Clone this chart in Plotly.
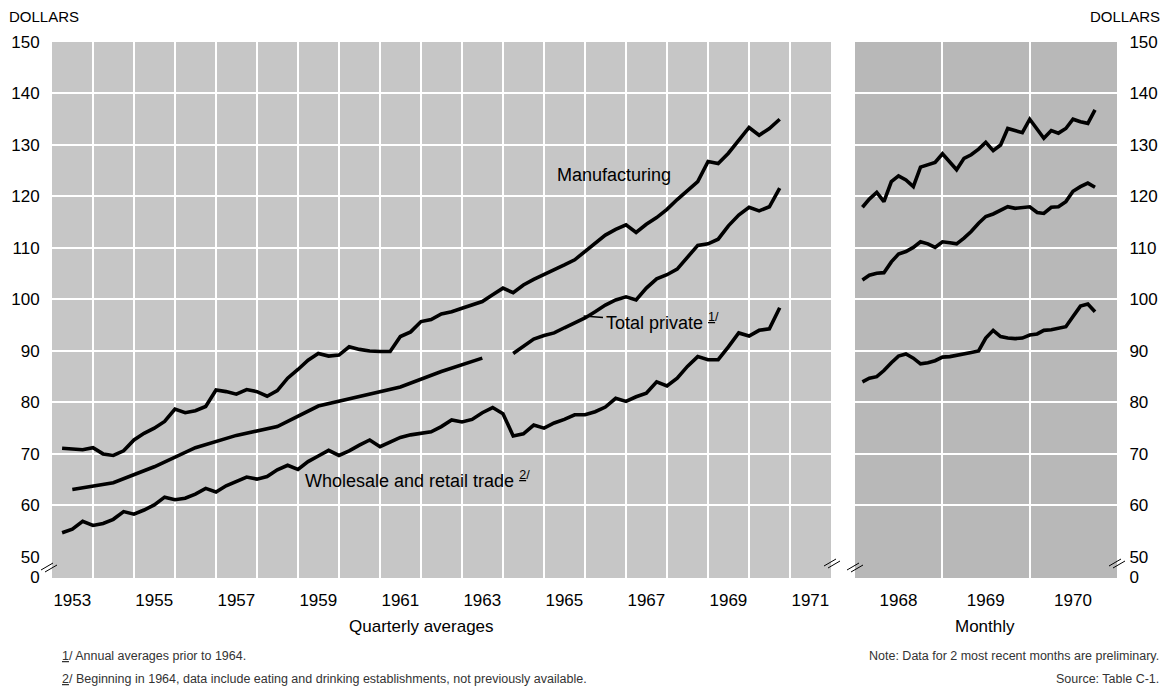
import pandas as pd
import plotly.graph_objects as go

# Periods
quarters = pd.period_range("1953Q1", "1970Q3", freq="Q").to_timestamp(how="end")
tp_years = list(range(1953, 1964))
tp_annual_dates = pd.to_datetime([f"{y}-07-01" for y in tp_years])
tp_quarters = pd.period_range("1964Q1", "1970Q3", freq="Q").to_timestamp(how="end")
months = pd.period_range("1968-01", "1970-09", freq="M").to_timestamp(how="end")

# Average weekly earnings, dollars
manufacturing_q = [
    71.1, 70.9, 70.8, 71.2, 70.0, 69.7, 70.6, 72.7, 74.0, 75.0, 76.3, 78.7,
    78.0, 78.4, 79.2, 82.4, 82.1, 81.6, 82.5, 82.1, 81.2, 82.3, 84.7, 86.4,
    88.2, 89.5, 89.0, 89.2, 90.8, 90.3, 90.0, 89.9, 89.9, 92.8, 93.7, 95.7,
    96.1, 97.2, 97.6, 98.3, 98.9, 99.6, 100.9, 102.2, 101.3, 102.8, 103.9, 104.8,
    105.7, 106.7, 107.7, 109.3, 111.0, 112.5, 113.6, 114.5, 113.0, 114.6, 115.9, 117.5,
    119.4, 121.1, 122.9, 126.8, 126.4, 128.4, 130.8, 133.4, 131.9, 133.2, 135.0,
]
total_private_annual = [63.1, 64.4, 67.5, 71.2, 73.6, 75.3, 79.3, 81.1, 83.0, 86.0, 88.6]
total_private_q = [
    89.5, 91.0, 92.3, 93.0, 93.5, 94.5, 95.5, 96.4, 97.6, 98.9, 99.9, 100.5,
    99.9, 102.2, 104.0, 104.8, 105.9, 108.2, 110.5, 110.8, 111.7, 114.3, 116.4, 117.9,
    117.2, 118.0, 121.6,
]
trade_q = [
    54.7, 55.4, 56.9, 56.1, 56.5, 57.3, 58.8, 58.3, 59.1, 60.1, 61.6, 61.1,
    61.4, 62.2, 63.3, 62.6, 63.8, 64.6, 65.5, 65.1, 65.6, 66.9, 67.8, 67.0,
    68.5, 69.6, 70.7, 69.7, 70.6, 71.7, 72.7, 71.4, 72.2, 73.2, 73.7, 74.0,
    74.3, 75.3, 76.6, 76.2, 76.7, 78.0, 79.0, 77.8, 73.5, 73.9, 75.6, 75.0,
    76.0, 76.7, 77.6, 77.6, 78.2, 79.1, 80.8, 80.2, 81.1, 81.8, 84.0, 83.2,
    84.7, 87.0, 88.9, 88.3, 88.3, 90.8, 93.5, 92.9, 94.0, 94.3, 98.4,
]
manufacturing_m = [
    117.9, 119.5, 120.8, 119.0, 122.9, 124.0, 123.2, 121.9, 125.7, 126.1, 126.6, 128.3,
    126.8, 125.2, 127.4, 128.1, 129.2, 130.5, 128.9, 130.0, 133.2, 132.8, 132.4, 135.0,
    132.9, 131.3, 132.8, 132.3, 133.2, 135.0, 134.5, 134.2, 136.8,
]
total_private_m = [
    103.8, 104.7, 105.1, 105.2, 107.3, 108.8, 109.3, 110.1, 111.2, 110.8, 110.1, 111.2,
    111.0, 110.8, 111.9, 113.2, 114.8, 116.1, 116.6, 117.3, 118.0, 117.7, 117.9, 118.0,
    116.9, 116.7, 117.9, 118.0, 119.0, 121.0, 121.9, 122.6, 121.8,
]
trade_m = [
    84.0, 84.7, 85.0, 86.2, 87.7, 89.0, 89.4, 88.6, 87.5, 87.7, 88.1, 88.8,
    88.9, 89.2, 89.4, 89.7, 90.0, 92.5, 94.0, 92.8, 92.5, 92.4, 92.5, 93.1,
    93.3, 94.0, 94.1, 94.4, 94.7, 96.7, 98.7, 99.1, 97.6,
]

left_years = list(range(1953, 1972, 2))
right_years = [1968, 1969, 1970]
y_ticks = [50, 60, 70, 80, 90, 100, 110, 120, 130, 140, 150]

W, H = 1167, 690
FONT = "Liberation Sans, Arial, sans-serif"
line = dict(color="black", width=3.6)

fig = go.Figure()
fig.add_trace(go.Scatter(x=quarters, y=manufacturing_q, mode="lines", line=line))
fig.add_trace(go.Scatter(x=tp_annual_dates, y=total_private_annual, mode="lines", line=line))
fig.add_trace(go.Scatter(x=tp_quarters, y=total_private_q, mode="lines", line=line))
fig.add_trace(go.Scatter(x=quarters, y=trade_q, mode="lines", line=line))
for vals in (manufacturing_m, total_private_m, trade_m):
    fig.add_trace(go.Scatter(x=months, y=vals, mode="lines", line=line, xaxis="x2", yaxis="y2"))


def px(x, y):
    return x / W, 1 - y / H


yaxis_common = dict(
    range=[45.9, 150],
    automargin=False,
    tickmode="array",
    tickvals=[46] + y_ticks,
    ticktext=["0"] + [str(v) for v in y_ticks],
    showgrid=False,
    zeroline=False,
    showline=False,
    ticks="outside",
    ticklen=8,
    tickcolor="rgba(0,0,0,0)",
    tickfont=dict(family=FONT, size=17, color="black"),
    minor=dict(tickmode="array", tickvals=y_ticks[1:-1], showgrid=True,
               gridcolor="white", gridwidth=2, ticks=""),
)
xaxis_common = dict(
    type="date",
    automargin=False,
    showgrid=False,
    zeroline=False,
    showline=False,
    ticks="outside",
    ticklen=7,
    tickcolor="rgba(0,0,0,0)",
    tickfont=dict(family=FONT, size=17, color="black"),
)

fig.update_layout(
    width=W, height=H,
    margin=dict(l=0, r=0, t=0, b=0),
    paper_bgcolor="white",
    plot_bgcolor="#c6c6c6",
    showlegend=False,
    xaxis=dict(
        xaxis_common, domain=[52 / W, 831 / W], anchor="y",
        range=["1953-01-01", "1972-01-01"],
        tickvals=[f"{y}-07-01" for y in left_years],
        ticktext=[str(y) for y in left_years],
        minor=dict(tick0="1953-01-01", dtick="M12", showgrid=True,
                   gridcolor="white", gridwidth=2, ticks=""),
    ),
    yaxis=dict(yaxis_common, domain=[1 - 578 / H, 1 - 42 / H], anchor="x", side="left"),
    xaxis2=dict(
        xaxis_common, domain=[855 / W, 1117 / W], anchor="y2",
        range=["1968-01-01", "1971-01-01"],
        tickvals=[f"{y}-07-01" for y in right_years],
        ticktext=[str(y) for y in right_years],
        minor=dict(tick0="1968-01-01", dtick="M12", showgrid=True,
                   gridcolor="white", gridwidth=2, ticks=""),
    ),
    yaxis2=dict(yaxis_common, domain=[1 - 578 / H, 1 - 42 / H], anchor="x2", side="right"),
)

# darker screen on the monthly panel
fig.add_shape(type="rect", xref="x2 domain", yref="y2 domain", x0=0, x1=1, y0=0, y1=1,
              fillcolor="rgba(0,0,0,0.07)", line_width=0, layer="below")

# axis break marks
for bx, by in [(46, 566), (829, 562), (852, 566), (1114, 562)]:
    for off in (0, 4):
        x0, y0 = px(bx - 5 + off, by + 4 + off / 2)
        x1, y1 = px(bx + 7 + off, by - 3 + off / 2)
        fig.add_shape(type="line", xref="paper", yref="paper", x0=x0, y0=y0, x1=x1, y1=y1,
                      line=dict(color="black", width=1))

# leader for "Total private"
fig.add_shape(type="line", xref="x", yref="y", x0="1965-12-20", x1="1966-06-10", y0=96.8, y1=96.5,
              line=dict(color="black", width=1.5))

ann = []


def text(x, y, s, size=16, xanchor="left", xref="paper", yref="paper", color="black"):
    ann.append(dict(x=x, y=y, text=s, showarrow=False, xref=xref, yref=yref,
                    xanchor=xanchor, yanchor="middle",
                    font=dict(family=FONT, size=size, color=color)))


text(*px(7, 16), "DOLLARS", size=15)
text(*px(1162, 16), "DOLLARS", size=15, xanchor="right")
text("1966-09-15", 124.2, "Manufacturing", size=18, xanchor="center", xref="x", yref="y")
text("1966-06-15", 95.7, "Total private <sup><u>1</u>/</sup>", size=18, xref="x", yref="y")
text("1959-02-15", 65.0, "Wholesale and retail trade <sup><u>2</u>/</sup>", size=18, xref="x", yref="y")
text(*px(421, 626), "Quarterly averages", size=17, xanchor="center")
text(*px(985, 626), "Monthly", size=17, xanchor="center")
text(*px(60, 656), "<u>1</u>/ Annual averages prior to 1964.", size=12.5, color="#333")
text(*px(60, 679), "<u>2</u>/ Beginning in 1964, data include eating and drinking establishments, not previously available.",
     size=12.5, color="#333")
text(*px(1161, 656), "Note: Data for 2 most recent months are preliminary.", size=12.5, xanchor="right", color="#333")
text(*px(1161, 679), "Source: Table C-1.", size=12.5, xanchor="right", color="#333")
fig.update_layout(annotations=ann)

# the page is photographed edge to edge, so drop the browser's default body margin
fig.write_html("out.html", config={"displayModeBar": False},
               post_script="document.body.style.margin='0';document.body.style.padding='0';")
